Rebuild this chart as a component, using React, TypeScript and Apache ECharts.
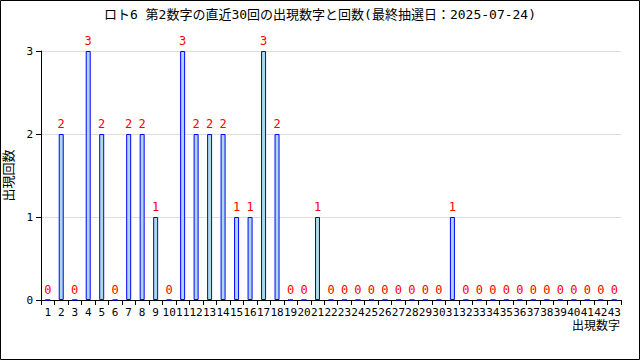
import React, { useEffect, useRef } from "react";
import * as echarts from "echarts";

const categories: string[] = Array.from({ length: 43 }, (_, i) => String(i + 1));
const counts: number[] = [
  0, 2, 0, 3, 2, 0, 2, 2, 1, 0,
  3, 2, 2, 2, 1, 1, 3, 2, 0, 0,
  1, 0, 0, 0, 0, 0, 0, 0, 0, 0,
  1, 0, 0, 0, 0, 0, 0, 0, 0, 0,
  0, 0, 0,
];
const yTicks = [0, 1, 2, 3];
const titleText = "ロト6 第2数字の直近30回の出現数字と回数(最終抽選日：2025-07-24)";
const xAxisName = "出現数字";
const yAxisName = "出現回数";

const FONT = "'DejaVu Sans Mono', 'Noto Sans CJK JP', monospace";

export default function App() {
  const ref = useRef<HTMLDivElement>(null);
  useEffect(() => {
    if (!ref.current) return;
    const chart = echarts.init(ref.current, null, { renderer: "svg" });
    chart.setOption({
      animation: false,
      backgroundColor: "#ffffff",
      textStyle: { fontFamily: FONT },
      title: {
        text: titleText,
        left: "center",
        top: 3,
        textStyle: { fontFamily: FONT, fontSize: 13, fontWeight: "normal", color: "#000" },
      },
      graphic: [
        {
          type: "rect",
          shape: { x: 0.5, y: 0.5, width: 639, height: 359 },
          style: { fill: "none", stroke: "#000", lineWidth: 1 },
          silent: true,
        },
        {
          type: "text",
          x: 620,
          y: 320,
          style: {
            text: xAxisName,
            fontFamily: FONT,
            fontSize: 12,
            fill: "#000",
            align: "right",
            verticalAlign: "top",
          },
          silent: true,
        },
      ],
      grid: { left: 41, right: 19, top: 51, bottom: 60, containLabel: false, outerBoundsMode: "none" },
      xAxis: {
        type: "category",
        data: categories,
        boundaryGap: true,
        axisLine: { lineStyle: { color: "#000", width: 1 } },
        axisTick: { show: true, alignWithLabel: false, length: 5, lineStyle: { color: "#000" } },
        axisLabel: { interval: 0, fontFamily: FONT, fontSize: 11, color: "#000", margin: 7 },
        splitLine: { show: false },
      },
      yAxis: {
        type: "value",
        min: 0,
        max: 3,
        interval: 1,
        name: yAxisName,
        nameLocation: "middle",
        nameRotate: 90,
        nameGap: 26,
        nameTextStyle: { fontFamily: FONT, fontSize: 13, color: "#000" },
        axisLine: { show: true, lineStyle: { color: "#000", width: 1 } },
        axisTick: { show: true, length: 5, lineStyle: { color: "#000" } },
        axisLabel: {
          fontFamily: FONT,
          fontSize: 11,
          color: "#000",
          margin: 8,
          formatter: (v: number) => (yTicks.includes(v) ? String(v) : ""),
        },
        splitLine: { show: true, lineStyle: { color: "#dddddd", width: 1 } },
      },
      series: [
        {
          type: "bar",
          data: counts,
          barWidth: 5,
          itemStyle: { color: "#add8e6", borderColor: "#0000ff", borderWidth: 1 },
          label: {
            show: true,
            position: "top",
            distance: 4,
            color: "#ff0000",
            fontFamily: FONT,
            fontSize: 12,
          },
        },
      ],
    });
    return () => chart.dispose();
  }, []);
  return (
    <div
      ref={ref}
      style={{ position: "absolute", left: 0, top: 0, width: 640, height: 360 }}
    />
  );
}
